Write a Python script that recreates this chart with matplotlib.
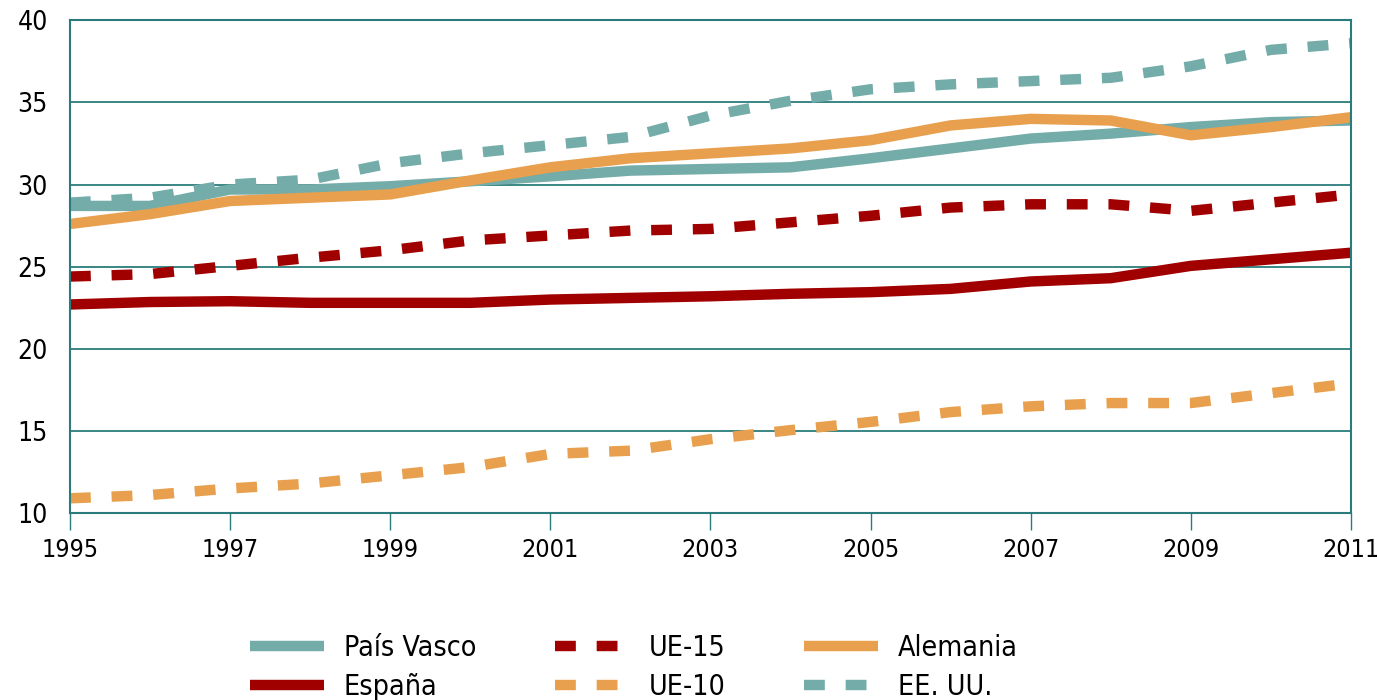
import matplotlib
matplotlib.use('Agg')
import matplotlib.pyplot as plt
from matplotlib import font_manager

years = list(range(1995, 2012))
pais_vasco = [28.7, 28.7, 29.7, 29.7, 29.9, 30.2, 30.5, 30.85, 30.95, 31.05, 31.6, 32.2, 32.8, 33.1, 33.5, 33.8, 33.9]
espana = [22.7, 22.85, 22.9, 22.8, 22.8, 22.8, 23.0, 23.1, 23.2, 23.35, 23.45, 23.65, 24.1, 24.3, 25.05, 25.45, 25.85]
ue15 = [24.4, 24.55, 25.05, 25.55, 26.0, 26.6, 26.9, 27.2, 27.3, 27.7, 28.1, 28.6, 28.8, 28.8, 28.4, 28.9, 29.4]
ue10 = [10.9, 11.1, 11.5, 11.8, 12.3, 12.8, 13.6, 13.8, 14.5, 15.05, 15.55, 16.15, 16.5, 16.7, 16.7, 17.3, 17.9]
alemania = [27.6, 28.2, 29.0, 29.2, 29.4, 30.25, 31.05, 31.6, 31.9, 32.2, 32.7, 33.6, 34.0, 33.9, 33.0, 33.5, 34.1]
eeuu = [28.9, 29.2, 30.0, 30.3, 31.3, 31.9, 32.4, 32.9, 34.2, 35.1, 35.8, 36.1, 36.3, 36.5, 37.2, 38.2, 38.6]

teal = '#74aca9'
orange = '#e8a04e'
red = '#a00000'
axcol = '#2a7c7c'

names = set(f.name for f in font_manager.fontManager.ttflist)
if 'Liberation Sans Narrow' in names:
	plt.rcParams['font.family'] = ['Liberation Sans Narrow', 'DejaVu Sans']
else:
	plt.rcParams['font.family'] = ['DejaVu Sans']
	plt.rcParams['font.stretch'] = 'condensed'

fig = plt.figure(figsize=(13.77, 7), dpi=100)
ax = fig.add_axes([0.0508, 0.267, 0.9302, 0.704])

lw = 7.5
dash = (2.0, 2.0)
series = [
	(pais_vasco, teal, '-', 'País Vasco'),
	(espana, red, '-', 'España'),
	(ue15, red, '--', 'UE-15'),
	(ue10, orange, '--', 'UE-10'),
	(alemania, orange, '-', 'Alemania'),
	(eeuu, teal, '--', 'EE. UU.'),
]
handles = {}
for vals, col, ls, lab in series:
	if ls == '-':
		l, = ax.plot(years, vals, color=col, lw=lw, solid_capstyle='butt', solid_joinstyle='round', clip_on=False, label=lab)
	else:
		l, = ax.plot(years, vals, color=col, lw=lw, dashes=dash, dash_capstyle='butt', clip_on=False, label=lab)
	handles[lab] = l

ax.set_xlim(1995, 2011)
ax.set_ylim(10, 40)
ax.set_yticks(range(10, 41, 5))
ax.set_xticks(range(1995, 2012, 2))
ax.grid(axis='y', color=axcol, lw=1.3)
ax.set_axisbelow(True)
for s in ax.spines.values():
	s.set_color(axcol)
	s.set_linewidth(1.5)
ax.tick_params(axis='x', direction='out', length=12, width=1, color=axcol, labelsize=18, pad=6)
ax.tick_params(axis='y', length=0, labelsize=19, pad=16)

order = ['País Vasco', 'España', 'UE-15', 'UE-10', 'Alemania', 'EE. UU.']
fig.legend([handles[k] for k in order], order, loc='upper left', bbox_to_anchor=(250 / 1377, 1 - 634 / 700),
	ncol=3, frameon=False, fontsize=20.5, handlelength=2.6, columnspacing=2.75, labelspacing=0.4,
	handletextpad=0.7, borderpad=0, borderaxespad=0)

fig.savefig('out.png', dpi=100)
